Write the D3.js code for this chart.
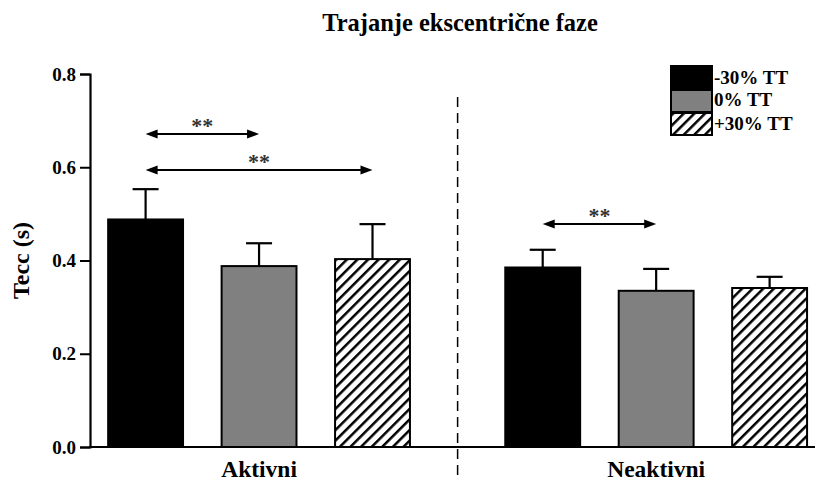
<!DOCTYPE html>
<html><head><meta charset="utf-8">
<script src="https://cdn.jsdelivr.net/npm/d3@7"></script>
<style>body{margin:0;background:#fff}svg{display:block}text{font-family:"Liberation Serif","Times New Roman",serif !important;font-weight:bold}</style>
</head><body>
<svg id="c" width="820" height="481"></svg>
<script>
const groups = ["Aktivni", "Neaktivni"];
const series = ["-30% TT", "0% TT", "+30% TT"];
const means = [[0.488, 0.388, 0.403], [0.385, 0.335, 0.341]];
const errs  = [[0.065, 0.049, 0.075], [0.038, 0.047, 0.024]];
const yTicks = [0.0, 0.2, 0.4, 0.6, 0.8];
const sig = [[0, 0, 1], [0, 0, 2], [1, 0, 1]]; // group, from series, to series
const title = "Trajanje ekscentrične faze";
const yLabel = "Tecc (s)";

const svg = d3.select("#c");
const defs = svg.append("defs");
const pat = defs.append("pattern").attr("id","hatch").attr("patternUnits","userSpaceOnUse")
  .attr("width",7.5).attr("height",7.5).attr("patternTransform","rotate(45)");
pat.append("rect").attr("width",7.5).attr("height",7.5).attr("fill","#fff");
pat.append("line").attr("x1",0).attr("y1",0).attr("x2",0).attr("y2",7.5).attr("stroke","#000").attr("stroke-width",5);
const fills = ["#000", "#808080", "url(#hatch)"];

const y = d3.scaleLinear().domain([0, 0.8]).range([447, 74]);
const x = d3.scaleLinear().domain([-0.49, 5.9]).range([90, 815]);
const slot = (g, s) => g * 3.5 + s;
const bw = 0.66;

// title
svg.append("text").attr("x", 460).attr("y", 31).attr("text-anchor","middle").attr("font-size",24.5).text(title);

// dashed separator
svg.append("line").attr("x1", x(2.75)).attr("x2", x(2.75)).attr("y1", 97).attr("y2", 481)
  .attr("stroke","#000").attr("stroke-width",1.5).attr("stroke-dasharray","10,6");

// bars
groups.forEach((g, gi) => {
  series.forEach((s, si) => {
    const xc = x(slot(gi, si));
    const w = x(bw) - x(0);
    const v = means[gi][si], e = errs[gi][si];
    svg.append("line").attr("x1", xc).attr("x2", xc).attr("y1", y(v)).attr("y2", y(v + e)).attr("stroke","#000").attr("stroke-width",2.2);
    svg.append("line").attr("x1", xc - 13).attr("x2", xc + 13).attr("y1", y(v + e)).attr("y2", y(v + e)).attr("stroke","#000").attr("stroke-width",2.2);
    svg.append("rect").attr("x", xc - w/2).attr("y", y(v)).attr("width", w).attr("height", y(0) - y(v))
      .attr("fill", fills[si]).attr("stroke","#000").attr("stroke-width",2);
  });
});

// axes
const yAxis = d3.axisLeft(y).tickValues(yTicks).tickFormat(d3.format(".1f")).tickSize(10).tickPadding(4);
const ya = svg.append("g").attr("transform", "translate(90,0)").call(yAxis);
ya.select(".domain").attr("stroke-width", 2.2);
ya.selectAll(".tick line").attr("stroke-width", 2);
ya.selectAll(".tick text").attr("font-size", 19).attr("fill","#000");
svg.append("line").attr("x1", 89).attr("x2", 815).attr("y1", y(0)).attr("y2", y(0)).attr("stroke","#000").attr("stroke-width",2.2);

// group labels
groups.forEach((g, gi) => {
  svg.append("text").attr("x", x(slot(gi, 1))).attr("y", 477).attr("text-anchor","middle").attr("font-size",23.5).text(g);
});

// y label
svg.append("text").attr("transform","translate(29," + y(0.4) + ") rotate(-90)").attr("text-anchor","middle").attr("font-size",24).attr("fill","#000").text(yLabel);

// significance arrows
const sigY = [134, 170, 224];
sig.forEach((d, i) => {
  const x1 = x(slot(d[0], d[1])), x2 = x(slot(d[0], d[2])), yy = sigY[i];
  svg.append("line").attr("x1", x1 + 8).attr("x2", x2 - 8).attr("y1", yy).attr("y2", yy).attr("stroke","#000").attr("stroke-width",2);
  svg.append("path").attr("d", `M${x1},${yy} L${x1+12},${yy-4.5} L${x1+12},${yy+4.5} Z`).attr("fill","#000");
  svg.append("path").attr("d", `M${x2},${yy} L${x2-12},${yy-4.5} L${x2-12},${yy+4.5} Z`).attr("fill","#000");
  svg.append("text").attr("x", (x1 + x2)/2).attr("y", yy - 1).attr("text-anchor","middle").attr("font-size",22).attr("fill","#333").text("**");
});

// legend
const lg = svg.append("g");
const ly = [66, 90, 113];
const lb = [84, 106, 130];
series.forEach((s, i) => {
  lg.append("rect").attr("x", 671).attr("y", ly[i]).attr("width", 41).attr("height", 22)
    .attr("fill", fills[i]).attr("stroke","#000").attr("stroke-width",2);
  lg.append("text").attr("x", 714).attr("y", lb[i]).attr("font-size",19).text(s);
});
</script>
</body></html>
